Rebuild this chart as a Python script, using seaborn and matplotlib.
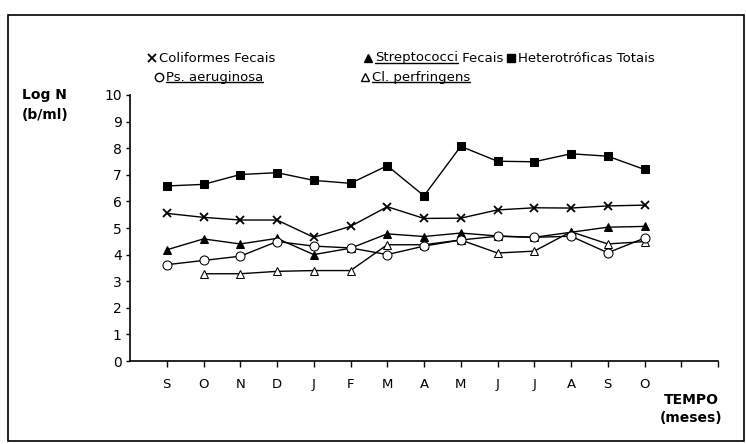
import numpy as np
import pandas as pd
import matplotlib
matplotlib.use('Agg')
import matplotlib.pyplot as plt
from matplotlib.lines import Line2D
from matplotlib.patches import Rectangle
import seaborn as sns

# data (log N, bacteria/ml)
months = ['S', 'O', 'N', 'D', 'J', 'F', 'M', 'A', 'M', 'J', 'J', 'A', 'S', 'O']
coliformes = [5.55, 5.40, 5.30, 5.30, 4.65, 5.06, 5.80, 5.36, 5.37, 5.68, 5.76, 5.75, 5.83, 5.86]
streptococci = [4.18, 4.59, 4.40, 4.61, 4.00, 4.24, 4.78, 4.68, 4.81, 4.70, 4.65, 4.84, 5.03, 5.06]
heterotroficas = [6.58, 6.64, 7.01, 7.08, 6.79, 6.68, 7.34, 6.21, 8.07, 7.51, 7.49, 7.79, 7.70, 7.20]
aeruginosa = [3.62, 3.78, 3.94, 4.49, 4.32, 4.25, 4.00, 4.32, 4.55, 4.69, 4.65, 4.69, 4.07, 4.62]
perfringens = [np.nan, 3.28, 3.28, 3.37, 3.40, 3.40, 4.37, 4.37, 4.55, 4.06, 4.13, 4.86, 4.40, 4.49]

df = pd.DataFrame({
    'idx': range(len(months)),
    'coliformes': coliformes,
    'streptococci': streptococci,
    'heterotroficas': heterotroficas,
    'aeruginosa': aeruginosa,
    'perfringens': perfringens,
})

sns.set_style('white')
plt.rcParams['font.family'] = ['DejaVu Sans']
plt.rcParams['text.color'] = 'black'
plt.rcParams['axes.labelcolor'] = 'black'
plt.rcParams['xtick.color'] = 'black'
plt.rcParams['ytick.color'] = 'black'

fig = plt.figure(figsize=(7.46, 4.44), dpi=100)
ax = fig.add_axes([130 / 746, 1 - 361 / 444, 588 / 746, 266 / 444])

styles = {
    'heterotroficas': dict(marker='s', markersize=6, markerfacecolor='black', zorder=3),
    'coliformes': dict(marker='x', markersize=6, markeredgewidth=1.3, zorder=3),
    'perfringens': dict(marker='^', markersize=6, markerfacecolor='white', zorder=3),
    'streptococci': dict(marker='^', markersize=6, markerfacecolor='black', zorder=4),
    'aeruginosa': dict(marker='o', markersize=6.5, markerfacecolor='white', zorder=5),
}
for col, kw in styles.items():
    sub = df[['idx', col]].dropna()
    sns.lineplot(data=sub, x='idx', y=col, ax=ax, color='black', linewidth=1.0,
                 markeredgecolor='black', **kw)

ax.set_xlim(-1, 15)
ax.set_ylim(0, 10)
ax.set_xticks(range(16))
ax.set_xticklabels(months + ['', ''], fontsize=9.5)
ax.set_yticks(range(11))
ax.set_yticklabels([str(v) for v in range(11)], fontsize=10)
ax.tick_params(axis='x', direction='out', length=4, width=1, bottom=True, pad=8)
ax.tick_params(axis='y', direction='out', length=3, width=1, left=True, pad=3)
ax.set_xlabel('')
ax.set_ylabel('')
for s in ['top', 'right']:
    ax.spines[s].set_visible(False)
for s in ['left', 'bottom']:
    ax.spines[s].set_color('black')
    ax.spines[s].set_linewidth(1.2)

# axis titles
fig.text(22 / 746, 1 - 95 / 444, 'Log N', fontsize=10, fontweight='bold', va='center', ha='left')
fig.text(22 / 746, 1 - 115 / 444, '(b/ml)', fontsize=10, fontweight='bold', va='center', ha='left')
fig.text(664 / 746, 1 - 400 / 444, 'TEMPO', fontsize=10, fontweight='bold', va='center', ha='left')
fig.text(660 / 746, 1 - 418 / 444, '(meses)', fontsize=10, fontweight='bold', va='center', ha='left')

# legend drawn by hand, like the original printout
fig.canvas.draw()
renderer = fig.canvas.get_renderer()
inv = fig.transFigure.inverted()


def legend_entry(x_px, y_px, marker, mfc, parts):
    y = 1 - y_px / 444
    fig.add_artist(Line2D([x_px / 746], [y], marker=marker, markersize=6, color='black',
                          markerfacecolor=mfc, markeredgecolor='black',
                          markeredgewidth=1.3 if marker == 'x' else 1.0,
                          linestyle='none', transform=fig.transFigure))
    x = (x_px + 7) / 746
    for text, underline in parts:
        t = fig.text(x, y, text, fontsize=9.5, va='center', ha='left')
        bb = t.get_window_extent(renderer)
        (x0, y0), (x1, y1) = inv.transform([[bb.x0, bb.y0], [bb.x1, bb.y1]])
        if underline:
            fig.add_artist(Line2D([x0, x1], [y0 + 0.004, y0 + 0.004], color='black',
                                  linewidth=1.0, transform=fig.transFigure))
        x = x1
    return x


legend_entry(152, 58, 'x', 'black', [('Coliformes Fecais', False)])
end = legend_entry(368, 58, '^', 'black', [('Streptococci', True), (' Fecais', False)])
legend_entry(end * 746 + 8, 58, 's', 'black', [('Heterotróficas Totais', False)])
legend_entry(159, 77, 'o', 'white', [('Ps. aeruginosa', True)])
legend_entry(365, 77, '^', 'white', [('Cl. perfringens', True)])

# frame around the figure
fig.add_artist(Rectangle((8 / 746, 3 / 444), 736 / 746, 426 / 444, fill=False,
                         edgecolor='black', linewidth=1.2, transform=fig.transFigure))

fig.savefig('out.png', dpi=100)
